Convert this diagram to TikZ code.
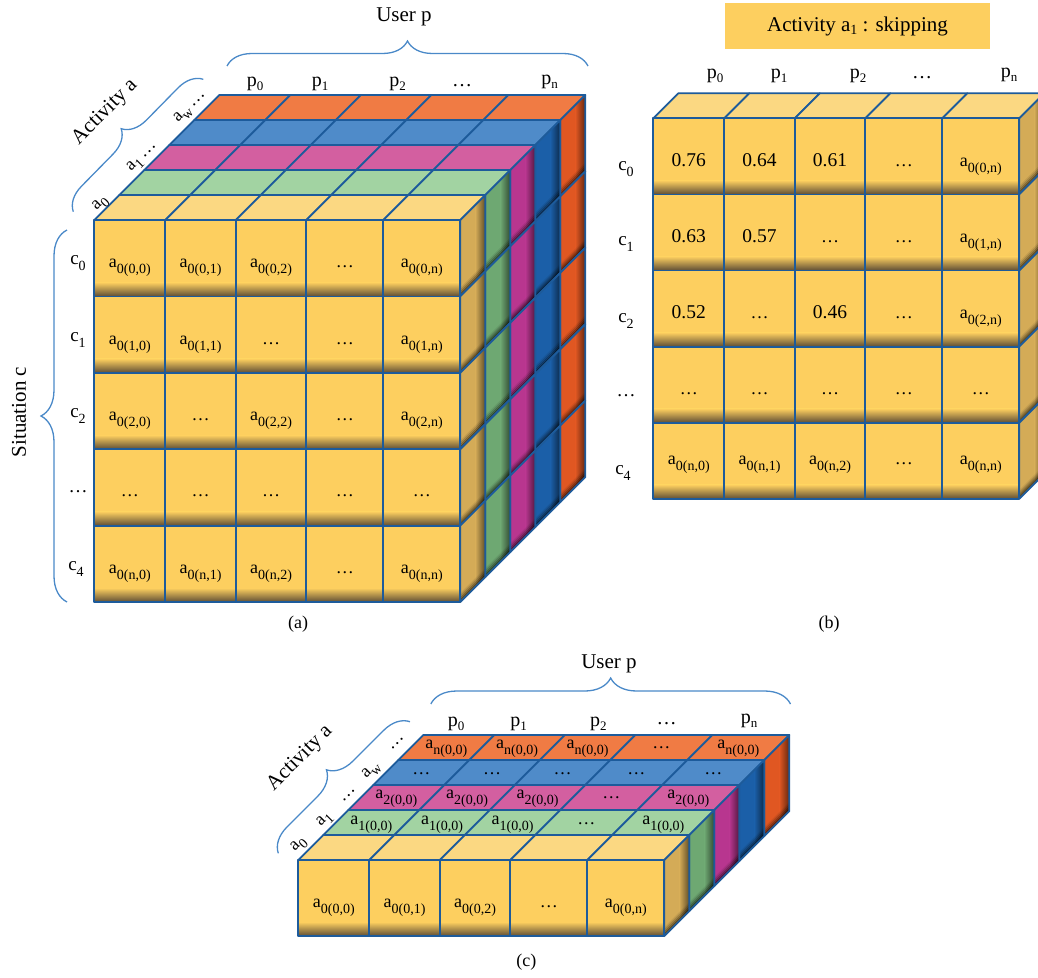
\documentclass[tikz,border=0pt]{standalone}
\usepackage{fontspec}
\setmainfont{Liberation Serif}
\usetikzlibrary{decorations.pathreplacing}

\definecolor{edgec}{HTML}{1D5B9B}
\definecolor{bracec}{HTML}{4A89C8}
\definecolor{yfr}{HTML}{FDCF5F}
\definecolor{ytp}{HTML}{FBD882}
\definecolor{ysd}{HTML}{D4AB57}
\definecolor{gtp}{HTML}{A2D3A2}
\definecolor{gsd}{HTML}{6EA872}
\definecolor{mtp}{HTML}{D35FA0}
\definecolor{msd}{HTML}{B8368F}
\definecolor{btp}{HTML}{4F8BC9}
\definecolor{bsd}{HTML}{1B5FA8}
\definecolor{otp}{HTML}{F07B44}
\definecolor{osd}{HTML}{E05722}
\definecolor{shad}{HTML}{5E4D35}
\definecolor{labbox}{HTML}{FDCF5F}

\newcommand{\sbs}[3][5pt]{\raisebox{-#1}{\fontsize{#2}{#2}\selectfont #3}}
\newcommand{\ca}[1]{a\sbs[6.5pt]{14}{#1}}
\newcommand{\nm}[1]{{\fontsize{19.5}{20}\selectfont #1}}
\newcommand{\pl}[1]{p\sbs[4pt]{13}{#1}}
\newcommand{\cl}[1]{c\sbs[6pt]{14}{#1}}

% top face of a slab: x0, y0 (front-top-left), colour
\newcommand{\slabtop}[3]{%
  \foreach \xa/\xb in {0/71,71/141.5,141.5/212,212/289,289/366}{%
    \filldraw[fill=#3, cedge] ({#1+\xa},{#2}) -- ({#1+\xb},{#2}) -- ({#1+\xb+25},{#2-25}) -- ({#1+\xa+25},{#2-25}) -- cycle;
  }}
% right side face: x0, y0, nrows, H, colour
\newcommand{\slabside}[5]{%
  \foreach \rr in {1,...,#3}{%
    \pgfmathsetmacro{\yt}{#2+(\rr-1)*#4}%
    \begin{scope}
      \clip ({#1+366},\yt) -- ++(25,-25) -- ++(0,#4) -- ++(-25,25) -- cycle;
      \fill[#5] ({#1+366},{\yt-25}) rectangle ({#1+391},{\yt+#4});
      \shade[left color=#5, right color=#5!45!black] ({#1+381},{\yt-25}) rectangle ({#1+391},{\yt+#4});
      \foreach \dd/\op in {1.5/0.45,3.5/0.3,5.5/0.18,7.5/0.08}
        \draw[black, line width=2pt, opacity=\op] ({#1+366},{\yt+#4-\dd}) -- ++(25,-25);
    \end{scope}
    \draw[cedge] ({#1+366},\yt) -- ++(25,-25) -- ++(0,#4) -- ++(-25,25) -- cycle;
  }}
% front face: x0, y0, nrows, H
\newcommand{\slabfront}[4]{%
  \foreach \xa/\xb in {0/71,71/141.5,141.5/212,212/289,289/366}{%
    \foreach \rr in {1,...,#3}{%
      \pgfmathsetmacro{\yt}{#2+(\rr-1)*#4}%
      \pgfmathsetmacro{\yb}{#2+\rr*#4}%
      \fill[yfr] ({#1+\xa},\yt) rectangle ({#1+\xb},\yb);
      \shade[top color=yfr, bottom color=shad] ({#1+\xa},{\yb-14}) rectangle ({#1+\xb},\yb);
      \draw[cedge] ({#1+\xa},\yt) rectangle ({#1+\xb},\yb);
    }}}
% a row of five cell texts: name, x0, baseline y, texts
\newcommand{\cellrow}[8]{%
  \node[cell] (#1-0) at ({#2+35.5},#3) {#4};
  \node[cell] (#1-1) at ({#2+106.25},#3) {#5};
  \node[cell] (#1-2) at ({#2+176.75},#3) {#6};
  \node[cell] (#1-3) at ({#2+250.5},#3) {#7};
  \node[cell] (#1-4) at ({#2+327.5},#3) {#8};
}

\begin{document}
\begin{tikzpicture}[x=1pt,y=-1pt,
  cedge/.style={draw=edgec, line width=1.8pt, line join=round},
  cell/.style={anchor=base, inner sep=0pt, font=\fontsize{18}{20}\selectfont},
  lab/.style={inner sep=0pt, font=\fontsize{21}{24}\selectfont},
  plab/.style={anchor=base, inner sep=0pt, font=\fontsize{20}{22}\selectfont},
  clab/.style={anchor=base, inner sep=0pt, font=\fontsize{19}{22}\selectfont},
  rlab/.style={inner sep=0pt, rotate=45, font=\fontsize{18}{20}\selectfont},
  capt/.style={anchor=base, inner sep=0pt, font=\fontsize{18}{20}\selectfont},
  bracestyle/.style={decorate, decoration={brace, amplitude=#1}, draw=bracec, line width=1.3pt},
  bracestyle/.default=25pt]
\useasboundingbox (0,0) rectangle (1038,977);
\clip (0,0) rectangle (1038,977);

% ================= (a) =================
\slabtop{194.3}{120}{otp}\slabside{194.3}{120}{5}{76.4}{osd}
\slabtop{169.3}{145}{btp}\slabside{169.3}{145}{5}{76.4}{bsd}
\slabtop{144.3}{170}{mtp}\slabside{144.3}{170}{5}{76.4}{msd}
\slabtop{119.3}{195}{gtp}\slabside{119.3}{195}{5}{76.4}{gsd}
\slabtop{94.3}{220}{ytp}\slabside{94.3}{220}{5}{76.4}{ysd}
\slabfront{94.3}{220}{5}{76.4}

\cellrow{A0}{94.3}{267}{\ca{0(0,0)}}{\ca{0(0,1)}}{\ca{0(0,2)}}{\ldots}{\ca{0(0,n)}}
\cellrow{A1}{94.3}{344}{\ca{0(1,0)}}{\ca{0(1,1)}}{\ldots}{\ldots}{\ca{0(1,n)}}
\cellrow{A2}{94.3}{420}{\ca{0(2,0)}}{\ldots}{\ca{0(2,2)}}{\ldots}{\ca{0(2,n)}}
\cellrow{A3}{94.3}{496}{\ldots}{\ldots}{\ldots}{\ldots}{\ldots}
\cellrow{A4}{94.3}{573}{\ca{0(n,0)}}{\ca{0(n,1)}}{\ca{0(n,2)}}{\ldots}{\ca{0(n,n)}}

\node[clab] (Ac0) at (78,264) {\cl{0}};
\node[clab] (Ac1) at (78,341) {\cl{1}};
\node[clab] (Ac2) at (78,417) {\cl{2}};
\node[clab] (Ac3) at (78,492) {\ldots};
\node[clab] (Ac4) at (76,570) {\cl{4}};

\node[plab] (Ap0) at (255,86) {\pl{0}};
\node[plab] (Ap1) at (320,86) {\pl{1}};
\node[plab] (Ap2) at (397.6,86) {\pl{2}};
\node[plab] (Ap3) at (462,86) {\ldots};
\node[plab] (Apn) at (549.6,84) {\pl{n}};

\node[lab, anchor=base] (AUser) at (404,21.7) {User p};
\coordinate (AUb1) at (227,66); \coordinate (AUb2) at (588,66);
\draw[bracestyle=25pt] (AUb1) -- (AUb2);

\node[lab, rotate=90] (ASit) at (19,412) {Situation c};
\coordinate (ASb1) at (67,602); \coordinate (ASb2) at (67,230);
\draw[bracestyle=26pt] (ASb1) -- (ASb2);

\node[lab, rotate=45] (AAct) at (105,112.3) {Activity a};
\coordinate (AAb1) at (73.3,211.7); \coordinate (AAb2) at (203.3,79.3);
\draw[bracestyle=24pt] (AAb1) -- (AAb2);
\node[rlab] (Aa0) at (100.7,204) {a\sbs{14}{0}};
\node[rlab] (Aa1) at (142.7,157.3) {a\sbs{14}{1}\,\ldots};
\node[rlab] (Aaw) at (190.7,107.3) {a\sbs{14}{w}\,\ldots};

\node[capt] (capa) at (298,628) {(a)};

% ================= (b) =================
\slabtop{653.3}{118.3}{ytp}\slabside{653.3}{118.3}{5}{76.1}{ysd}
\slabfront{653.3}{118.3}{5}{76.1}

\cellrow{B0}{653.3}{166}{\nm{0.76}}{\nm{0.64}}{\nm{0.61}}{\ldots}{\ca{0(0,n)}}
\cellrow{B1}{653.3}{242}{\nm{0.63}}{\nm{0.57}}{\ldots}{\ldots}{\ca{0(1,n)}}
\cellrow{B2}{653.3}{318}{\nm{0.52}}{\ldots}{\nm{0.46}}{\ldots}{\ca{0(2,n)}}
\cellrow{B3}{653.3}{394}{\ldots}{\ldots}{\ldots}{\ldots}{\ldots}
\cellrow{B4}{653.3}{464}{\ca{0(n,0)}}{\ca{0(n,1)}}{\ca{0(n,2)}}{\ldots}{\ca{0(n,n)}}

\node[clab] (Bc0) at (626,170) {\cl{0}};
\node[clab] (Bc1) at (626,245) {\cl{1}};
\node[clab] (Bc2) at (626,322) {\cl{2}};
\node[clab] (Bc3) at (626,396) {\ldots};
\node[clab] (Bc4) at (623,474) {\cl{4}};

\node[plab] (Bp0) at (715,78) {\pl{0}};
\node[plab] (Bp1) at (779,78) {\pl{1}};
\node[plab] (Bp2) at (858,78) {\pl{2}};
\node[plab] (Bp3) at (922,78) {\ldots};
\node[plab] (Bpn) at (1009,77) {\pl{n}};

\node[lab, fill=labbox, minimum width=265pt, minimum height=46pt] (Bbox) at (857.5,26) {Activity a\sbs[3pt]{14}{1} : skipping};

\node[capt] (capb) at (829,628) {(b)};

% ================= (c) =================
\slabtop{398.3}{760}{otp}\slabside{398.3}{760}{1}{76}{osd}
\slabtop{373.3}{785}{btp}\slabside{373.3}{785}{1}{76}{bsd}
\slabtop{348.3}{810}{mtp}\slabside{348.3}{810}{1}{76}{msd}
\slabtop{323.3}{835}{gtp}\slabside{323.3}{835}{1}{76}{gsd}
\slabtop{298.3}{860}{ytp}\slabside{298.3}{860}{1}{76}{ysd}
\slabfront{298.3}{860}{1}{76}

\cellrow{C4}{410.8}{748}{\ca{n(0,0)}}{\ca{n(0,0)}}{\ca{n(0,0)}}{\ldots}{\ca{n(0,0)}}
\cellrow{C3}{385.8}{774}{\ldots}{\ldots}{\ldots}{\ldots}{\ldots}
\cellrow{C2}{360.8}{798}{\ca{2(0,0)}}{\ca{2(0,0)}}{\ca{2(0,0)}}{\ldots}{\ca{2(0,0)}}
\cellrow{C1}{335.8}{824}{\ca{1(0,0)}}{\ca{1(0,0)}}{\ca{1(0,0)}}{\ldots}{\ca{1(0,0)}}
\cellrow{C0}{298.3}{907}{\ca{0(0,0)}}{\ca{0(0,1)}}{\ca{0(0,2)}}{\ldots}{\ca{0(0,n)}}

\node[plab] (Cp0) at (456,726) {\pl{0}};
\node[plab] (Cp1) at (518.7,726) {\pl{1}};
\node[plab] (Cp2) at (598.3,726) {\pl{2}};
\node[plab] (Cp3) at (666.7,724) {\ldots};
\node[plab] (Cpn) at (749,723) {\pl{n}};

\node[lab, anchor=base] (CUser) at (609,668.3) {User p};
\coordinate (CUb1) at (430.8,704); \coordinate (CUb2) at (790.5,704);
\draw[bracestyle=26pt] (CUb1) -- (CUb2);

\node[lab, rotate=45] (CAct) at (300,758.3) {Activity a};
\coordinate (CAb1) at (278.3,853.3); \coordinate (CAb2) at (410,721.7);
\draw[bracestyle=25pt] (CAb1) -- (CAb2);
\node[rlab] (Ca0) at (299,845) {a\sbs{14}{0}};
\node[rlab] (Ca1) at (325,820) {a\sbs{14}{1}};
\node[rlab] (Cd1) at (349,795.7) {\ldots};
\node[rlab] (Caw) at (371.7,770.7) {a\sbs{14}{w}};
\node[rlab] (Cd2) at (397.3,743.3) {\ldots};

\node[capt] (capc) at (526.4,966) {(c)};
\end{tikzpicture}
\end{document}
